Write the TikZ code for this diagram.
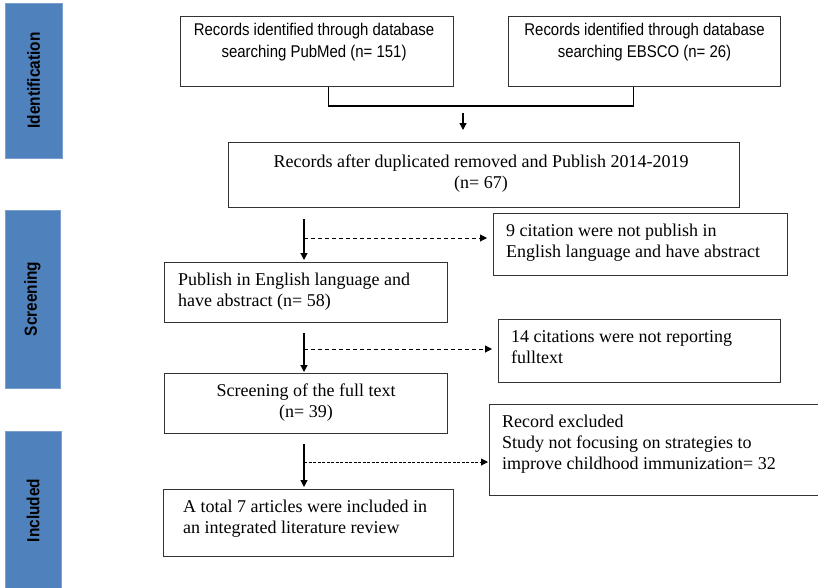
\documentclass[tikz,border=0pt]{standalone}
\usepackage{fontspec}
\setmainfont{Liberation Serif}
\newfontfamily\arialn{Liberation Sans}[FakeStretch=0.88]
\usetikzlibrary{arrows.meta}
\definecolor{stageBlue}{RGB}{79, 129, 189}

\begin{document}
\begin{tikzpicture}
    [
        x=1pt, y=-1pt,
        stage/.style={
            fill=stageBlue, draw=stageBlue!75!white, rotate=90,
            font=\arialn\bfseries\fontsize{17.5}{20}\selectfont
        },
        frame/.style={
            draw=black!80, line width=1.1pt, anchor=north west, inner sep=0pt
        },
        searchtext/.style={
            inner sep=0pt, anchor=north, align=center,
            font=\arialn\fontsize{17}{22}\selectfont
        },
        recordtext/.style={
            inner sep=0pt, anchor=north west, align=left,
            font=\fontsize{18}{21}\selectfont
        },
        flow/.style={-{Triangle[length=7pt, width=7pt]}, line width=1.2pt},
        skip/.style={-{Triangle[length=7pt, width=7pt]}, line width=1pt, dash pattern=on 4pt off 3pt}
    ]
\useasboundingbox (0,0) rectangle (818,587);

% Stages
\node (ident) [stage, minimum width=155pt, minimum height=57pt] at (33.5,80.5) {Identification};
\node (screen) [stage, minimum width=178pt, minimum height=55pt] at (32.5,299) {Screening};
\node (incl) [stage, minimum width=159pt, minimum height=56pt] at (33,510.5) {Included};

% Boxes
\node (pubmed) [frame, minimum width=273pt, minimum height=70pt] at (180,16) {};
\node (ebsco) [frame, minimum width=272pt, minimum height=70pt] at (508,16) {};
\node (after) [frame, minimum width=511pt, minimum height=65pt] at (228,142) {};
\node (cit9) [frame, minimum width=294pt, minimum height=62pt] at (493,213) {};
\node (publish) [frame, minimum width=283pt, minimum height=60pt] at (164,262) {};
\node (cit14) [frame, minimum width=282pt, minimum height=63pt] at (498,319) {};
\node (fulltext) [frame, minimum width=283pt, minimum height=60pt] at (164,373) {};
\node (excl) [frame, minimum width=331pt, minimum height=91pt] at (489,404) {};
\node (total) [frame, minimum width=290pt, minimum height=67pt] at (163,489) {};

% Texts
\node (pubmedtxt) [searchtext] at ([xshift=-3pt, yshift=-7pt]pubmed.north)
    {Records identified through database\\searching PubMed (n= 151)};
\node (ebscotxt) [searchtext] at ([yshift=-7pt]ebsco.north)
    {Records identified through database\\searching EBSCO (n= 26)};
\node (aftertxt) [recordtext, anchor=north, align=center] at ([xshift=-3pt, yshift=-13pt]after.north)
    {Records after duplicated removed and Publish 2014-2019\\(n= 67)};
\node (cit9txt) [recordtext] at ([xshift=13pt, yshift=-11pt]cit9.north west)
    {9 citation were not publish in\\English language and have abstract};
\node (publishtxt) [recordtext] at ([xshift=14pt, yshift=-11pt]publish.north west)
    {Publish in English language and\\have abstract (n= 58)};
\node (cit14txt) [recordtext] at ([xshift=13pt, yshift=-11pt]cit14.north west)
    {14 citations were not reporting\\fulltext};
\node (fulltexttxt) [recordtext, anchor=north, align=center] at ([yshift=-11pt]fulltext.north)
    {Screening of the full text\\(n= 39)};
\node (excltxt) [recordtext] at ([xshift=13pt, yshift=-11pt]excl.north west)
    {Record excluded\\Study not focusing on strategies to\\improve childhood immunization= 32};
\node (totaltxt) [recordtext] at ([xshift=20pt, yshift=-11pt]total.north west)
    {A total 7 articles were included in\\an integrated literature review};

% Transitions
\coordinate (merge) at (463,106);
\coordinate (spine) at (304,0);
\coordinate (fork1) at (304,238);
\coordinate (fork2) at (304,349);
\coordinate (fork3) at (304,462);

\draw [line width=1.1pt] ([xshift=11.5pt]pubmed.south) |- (merge) -| ([xshift=-11pt]ebsco.south);
\draw [flow] ([yshift=-7pt]merge) -- ([yshift=12pt]merge |- after.north);

\draw [flow, shorten >=2pt] ([yshift=-11pt]after.south -| spine) -- (publish.north -| spine);
\draw [flow, shorten >=1pt] ([yshift=-10pt]publish.south -| spine) -- (fulltext.north -| spine);
\draw [flow, shorten >=2pt] ([yshift=-10pt]fulltext.south -| spine) -- (total.north -| spine);

\draw [skip, shorten >=6pt] (fork1) -- (fork1 -| cit9.west);
\draw [skip, shorten >=6pt] (fork2) -- (fork2 -| cit14.west);
\draw [skip, shorten >=1pt, dash pattern=on 3pt off 1.5pt] (fork3) -- (fork3 -| excl.west);

\end{tikzpicture}
\end{document}
